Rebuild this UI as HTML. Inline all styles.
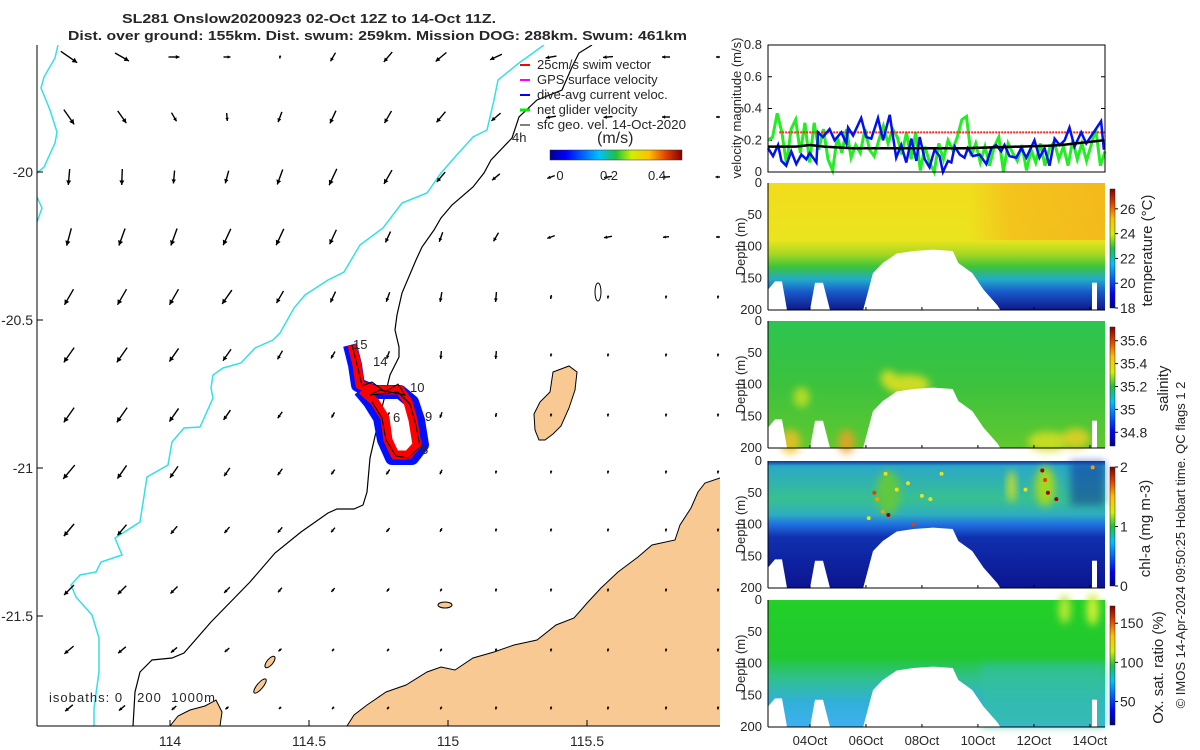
<!DOCTYPE html>
<html><head><meta charset="utf-8"><style>
html,body{margin:0;padding:0;background:#fff;}
svg{display:block;font-family:"Liberation Sans",sans-serif;}
text{fill:#262626;}
</style></head><body>
<svg id="s" width="1200" height="750" xmlns="http://www.w3.org/2000/svg">
<defs>
<linearGradient id="jetV" x1="0" y1="1" x2="0" y2="0">
<stop offset="0" stop-color="#00008f"/><stop offset="0.12" stop-color="#0000ff"/><stop offset="0.37" stop-color="#00c0ff"/><stop offset="0.5" stop-color="#20c040"/><stop offset="0.62" stop-color="#d0f000"/><stop offset="0.75" stop-color="#ffc000"/><stop offset="0.88" stop-color="#e04000"/><stop offset="1" stop-color="#800000"/></linearGradient>
<linearGradient id="jetH" x1="0" y1="0" x2="1" y2="0">
<stop offset="0" stop-color="#00008f"/><stop offset="0.12" stop-color="#0000ff"/><stop offset="0.37" stop-color="#00c0ff"/><stop offset="0.5" stop-color="#20c040"/><stop offset="0.62" stop-color="#d0f000"/><stop offset="0.75" stop-color="#ffc000"/><stop offset="0.88" stop-color="#e04000"/><stop offset="1" stop-color="#800000"/></linearGradient>
<linearGradient id="gT" x1="0" y1="0" x2="0" y2="1">
<stop offset="0" stop-color="#f2dc1c"/><stop offset="0.45" stop-color="#eae41e"/><stop offset="0.56" stop-color="#a6d822"/><stop offset="0.66" stop-color="#3cc43a"/><stop offset="0.76" stop-color="#22aacb"/><stop offset="0.86" stop-color="#1858c8"/><stop offset="1" stop-color="#10188a"/></linearGradient>
<linearGradient id="gTo" x1="0" y1="0" x2="1" y2="0">
<stop offset="0" stop-color="#f5b81c" stop-opacity="0"/><stop offset="0.3" stop-color="#f5b81c" stop-opacity="0.7"/><stop offset="1" stop-color="#f5b01c" stop-opacity="0.8"/></linearGradient>
<linearGradient id="gS" x1="0" y1="0" x2="0" y2="1">
<stop offset="0" stop-color="#2cc450"/><stop offset="0.5" stop-color="#3cc23e"/><stop offset="1" stop-color="#60c830"/></linearGradient>
<linearGradient id="gC" x1="0" y1="0" x2="0" y2="1">
<stop offset="0" stop-color="#1030a0"/><stop offset="0.04" stop-color="#2aa8c8"/><stop offset="0.3" stop-color="#38c090"/><stop offset="0.42" stop-color="#2eaec0"/><stop offset="0.5" stop-color="#2070e0"/><stop offset="0.6" stop-color="#1030b0"/><stop offset="1" stop-color="#0c1490"/></linearGradient>
<linearGradient id="gO" x1="0" y1="0" x2="0" y2="1">
<stop offset="0" stop-color="#22d028"/><stop offset="0.45" stop-color="#22c830"/><stop offset="0.62" stop-color="#30c090"/><stop offset="0.8" stop-color="#30b0d8"/><stop offset="1" stop-color="#40b0f0"/></linearGradient>
<filter id="blur" x="-50%" y="-50%" width="200%" height="200%"><feGaussianBlur stdDeviation="4"/></filter>
<clipPath id="mapClip"><rect x="37" y="45" width="683" height="681"/></clipPath>
</defs>

<text x="122" y="23" font-size="13" font-weight="bold" textLength="374" lengthAdjust="spacingAndGlyphs">SL281 Onslow20200923 02-Oct 12Z to 14-Oct 11Z.</text>
<text x="68" y="40" font-size="13" font-weight="bold" textLength="619" lengthAdjust="spacingAndGlyphs">Dist. over ground: 155km. Dist. swum: 259km. Mission DOG: 288km. Swum: 461km</text>

<g clip-path="url(#mapClip)">
<polygon fill="#f9c994" stroke="#000" stroke-width="1" points="347,726 354,715 367,705 386,692 406,685 427,672 441,667 455,670 473,658 494,652 514,645 537,640 556,625 574,618 588,602 601,588 618,572 638,557 652,545 675,540 680,525 691,508 698,492 705,483 720,478 725,478 725,730 347,730"/>
<polygon fill="#f9c994" stroke="#000" stroke-width="1" points="553,372 569,366 577,372 575,390 569,408 561,426 553,434 545,440 539,440 535,430 534,414 540,402 550,392"/>
<polygon fill="#f9c994" stroke="#000" stroke-width="1" points="170,726 178,716 190,710 205,706 216,700 222,712 220,726"/>
<ellipse cx="445" cy="605" rx="7" ry="3" fill="#f9c994" stroke="#000"/>
<ellipse cx="270" cy="662" rx="3" ry="7" transform="rotate(40 270 662)" fill="#f9c994" stroke="#000"/>
<ellipse cx="260" cy="686" rx="3" ry="9" transform="rotate(40 260 686)" fill="#f9c994" stroke="#000"/>
<ellipse cx="598" cy="292" rx="3" ry="9" fill="none" stroke="#000"/>
<polyline fill="none" stroke="#33e0e8" stroke-width="1.5" points="58,45 55,58 44,77 41,88 50,110 57,132 55,143 44,167 37,173"/>
<polyline fill="none" stroke="#33e0e8" stroke-width="1.5" points="37,197 42,208 37,222"/>
<polyline fill="none" stroke="#33e0e8" stroke-width="1.5" points="544,45 519,63 498,80 494,100 487,130 473,137 455,157 441,173 427,193 402,203 383,228 360,245 344,272 328,280 305,295 294,308 280,333 273,340 255,348 241,363 223,368 213,375 211,388 213,398 200,427 184,428 172,442 168,465 147,477 140,522 115,538 122,555 101,562 96,572 80,575 71,585 76,597 92,615 99,638 99,672 94,708 94,726"/>
<polyline fill="none" stroke="#000" stroke-width="1.2" points="592,45 579,53 572,67 562,90 537,100 519,117 512,138 491,160 484,173 473,187 452,205 441,218 434,230 422,247 416,260 402,293 397,315 395,330 399,347 399,357 390,375 376,432 370,458 367,492 363,505 354,509 337,509 328,513 301,532 275,553 250,582 211,622 184,653 172,658 152,660 140,672 135,692 133,726"/>
<g id="arrows"></g>
<g>
<polyline fill="none" stroke="#0010ff" stroke-width="14" stroke-linejoin="round" points="350,345 355,365 358,385 375,392 400,392 412,402 418,420 422,445 412,458 392,458 384,440 380,418 370,402 360,390"/>
<polyline fill="none" stroke="#ff0000" stroke-width="9" stroke-linejoin="round" points="352,345 357,365 360,385 375,390 400,390 408,402 413,420 417,445 408,455 395,455 388,440 385,418 375,402 362,390"/>
<polyline fill="none" stroke="#fff" stroke-width="4" points="402,412 405,430 400,440"/>
<polyline fill="none" stroke="#000" stroke-width="1" points="352,345 358,368 362,386 372,382 385,392 398,384 405,395 380,390 370,395 398,392 410,404 416,425 420,447 408,458 396,456 386,440 382,418 372,402"/>
</g>
<text x="353" y="349" font-size="13">15</text>
<text x="373" y="366" font-size="13">14</text>
<text x="410" y="392" font-size="13">10</text>
<text x="425" y="421" font-size="13">9</text>
<text x="393" y="422" font-size="13">6</text>
<text x="421" y="454" font-size="13">8</text>
</g>
<line x1="37" y1="45" x2="37" y2="726" stroke="#000"/>
<line x1="37" y1="726" x2="720" y2="726" stroke="#000"/>
<g font-size="14">
<text x="33" y="177" text-anchor="end">-20</text><text x="33" y="325" text-anchor="end">-20.5</text>
<text x="33" y="473" text-anchor="end">-21</text><text x="33" y="621" text-anchor="end">-21.5</text>
<line x1="37" y1="172" x2="43" y2="172" stroke="#000"/><line x1="37" y1="320" x2="43" y2="320" stroke="#000"/><line x1="37" y1="468" x2="43" y2="468" stroke="#000"/><line x1="37" y1="616" x2="43" y2="616" stroke="#000"/>
</g>
<g font-size="14" text-anchor="middle">
<text x="170" y="746">114</text><text x="309" y="746">114.5</text><text x="448" y="746">115</text><text x="587" y="746">115.5</text>
<line x1="170" y1="726" x2="170" y2="720" stroke="#000"/><line x1="309" y1="726" x2="309" y2="720" stroke="#000"/><line x1="448" y1="726" x2="448" y2="720" stroke="#000"/><line x1="587" y1="726" x2="587" y2="720" stroke="#000"/>
</g>
<text x="49" y="702" font-size="13" xml:space="preserve" textLength="166" lengthAdjust="spacing">isobaths: 0   200  1000m</text>
<g font-size="13">
<line x1="520" y1="65" x2="530" y2="65" stroke="#f00" stroke-width="2"/><text x="537" y="69">25cm/s swim vector</text>
<line x1="520" y1="80" x2="530" y2="80" stroke="#f0f" stroke-width="2"/><text x="537" y="84">GPS surface velocity</text>
<line x1="520" y1="95" x2="530" y2="95" stroke="#00f" stroke-width="2"/><text x="537" y="99">dive-avg current veloc.</text>
<line x1="520" y1="110" x2="530" y2="110" stroke="#0e0" stroke-width="3"/><text x="537" y="114">net glider velocity</text>
<line x1="520" y1="125" x2="530" y2="125" stroke="#000" stroke-width="1"/><text x="537" y="129" textLength="149" lengthAdjust="spacingAndGlyphs">sfc geo. vel. 14-Oct-2020</text>
<text x="512" y="142">4h</text>
<text x="597" y="143" font-size="16">(m/s)</text>
<rect x="550" y="150" width="132" height="10" fill="url(#jetH)" stroke="#333" stroke-width="0.5"/>
<text x="560" y="180" text-anchor="middle">0</text><text x="609" y="180" text-anchor="middle">0.2</text><text x="657" y="180" text-anchor="middle">0.4</text>
</g>

<g id="vel"></g>
<g id="sections"></g>
<text transform="translate(1185,545) rotate(-90)" text-anchor="middle" font-size="13">© IMOS 14-Apr-2024 09:50:25 Hobart time. QC flags 1 2</text>

<script>
const NS='http://www.w3.org/2000/svg';
const svg=document.getElementById('s');
function mk(tag,attrs,parent){const e=document.createElementNS(NS,tag);for(const k in attrs)e.setAttribute(k,attrs[k]);parent.appendChild(e);return e;}

const arrowCols=[69,122,174,227,280,333,388,441,496,551,608,666,718];
const arrowRows=[57,117,177,237,297,355,415,472,530,590,650,708];
const arrowAng=[
[35,30,0,0,100,120,130,140,155,170,175,180,180],
[55,55,60,85,110,115,120,130,140,170,175,180,180],
[95,92,95,105,110,115,120,130,140,160,170,175,180],
[105,110,110,115,115,115,115,110,120,160,170,175,180],
[120,120,120,125,120,115,110,100,95,100,100,100,100],
[125,125,125,125,120,120,110,95,95,100,100,100,100],
[125,125,125,125,125,120,120,110,100,100,100,100,100],
[130,125,125,125,125,125,125,115,100,100,100,100,100],
[130,130,130,130,130,130,130,120,100,100,100,100,100],
[135,135,135,135,130,130,130,120,100,100,100,100,100],
[140,140,140,140,140,130,130,120,100,100,100,100,100],
[140,140,140,140,140,130,130,120,100,100,100,100,100]];
const arrowLen=[
[20,16,11,7,3,10,13,14,13,11,10,8,4],
[18,15,10,8,11,14,14,14,12,10,9,8,4],
[16,16,13,13,16,18,16,13,10,8,8,8,5],
[18,18,18,18,18,16,12,10,10,8,8,6,4],
[18,18,18,17,14,12,10,10,10,4,3,3,3],
[18,18,16,14,10,8,8,8,8,3,3,3,3],
[18,18,16,12,8,6,6,6,4,3,3,3,3],
[18,16,14,10,8,6,6,5,3,3,3,3,3],
[16,14,10,8,7,6,5,4,3,3,3,3,3],
[14,12,10,8,6,5,4,3,3,3,3,3,3],
[12,10,8,6,4,3,3,3,3,3,3,3,3],
[10,8,6,4,3,3,3,3,3,3,3,3,3]];
const ag=document.getElementById('arrows');
arrowRows.forEach((y,i)=>arrowCols.forEach((x,j)=>{
  const L=arrowLen[i][j],a=arrowAng[i][j]*Math.PI/180;
  const dx=Math.cos(a)*L/2,dy=Math.sin(a)*L/2;
  const g=mk('g',{},ag);
  
  
  mk('line',{x1:x-dx,y1:y-dy,x2:x+dx,y2:y+dy,stroke:'#000','stroke-width':1.4},g);
  const hx=x+dx,hy=y+dy,h=Math.min(5.5,2+L/5);
  const p1=[hx-Math.cos(a-0.5)*h,hy-Math.sin(a-0.5)*h],p2=[hx-Math.cos(a+0.5)*h,hy-Math.sin(a+0.5)*h];
  mk('polygon',{points:`${hx},${hy} ${p1} ${p2}`,fill:'#000'},g);
}));

const PX0=768,PX1=1105,DAYS=12.04;
const tx=d=>PX0+d/DAYS*(PX1-PX0);
const vY0=172,vY1=45;
const vy=v=>vY0-(v/0.8)*(vY0-vY1);
const blueT=[0,0.18,0.36,0.48,0.65,0.83,1.01,1.19,1.37,1.49,1.73,1.79,1.96,2.2,2.38,2.62,2.8,2.86,3.04,3.33,3.51,3.69,3.93,4.11,4.35,4.58,4.76,4.94,5.12,5.3,5.42,5.6,5.77,5.95,6.13,6.25,6.43,6.55,6.67,6.85,7.02,7.14,7.32,7.56,7.8,7.98,8.15,8.33,8.45,8.63,8.87,9.05,9.23,9.52,9.7,9.88,10.06,10.24,10.42,10.6,10.77,10.95,11.19,11.37,11.9,12.0];
const blueV=[0.15,0.10,0.17,0.07,0.04,0.13,0.05,0.11,0.08,0.12,0.06,0.25,0.22,0.27,0.20,0.25,0.18,0.28,0.23,0.34,0.22,0.21,0.34,0.20,0.36,0.09,0.17,0.06,0.21,0.07,0.22,0.08,0.03,0.14,0.10,0.00,0.07,0.06,0.16,0.11,0.09,0.15,0.10,0.11,0.05,0.15,0.17,0.13,0.17,0.10,0.09,0.15,0.09,0.20,0.09,0.15,0.04,0.21,0.17,0.20,0.28,0.16,0.25,0.18,0.32,0.14];
const greenV=[0.20,0.22,0.37,0.25,0.05,0.27,0.33,0.12,0.31,0.06,0.31,0.14,0.27,0.08,0.01,0.22,0.12,0.27,0.09,0.17,0.12,0.27,0.14,0.10,0.20,0.29,0.18,0.27,0.22,0.11,0.25,0.08,0.25,0.01,0.16,0.06,0.00,0.18,0.08,0.20,0.14,0.22,0.33,0.35,0.10,0.18,0.06,0.16,0.04,0.16,0.22,0.00,0.18,0.12,0.07,0.17,0.01,0.14,0.06,0.18,0.04,0.15,0.19,0.08,0.16,0.04,0.20,0.08,0.18,0.07,0.17,0.27,0.04,0.13];
const blackT=[0,1,1.5,2,3,4,5,6,7,8,9,10,10.5,11,11.5,12];
const blackV=[0.16,0.16,0.17,0.16,0.15,0.15,0.15,0.15,0.15,0.155,0.16,0.165,0.17,0.18,0.19,0.20];
const swimV=0.25;
const vel=document.getElementById('vel');
const vt=[0,0.2,0.4,0.6,0.8];
vt.forEach(v=>{
  const t=mk('text',{x:762,y:vy(v)+4,'text-anchor':'end','font-size':13},vel);t.textContent=v;
  
  
  mk('line',{x1:PX0,y1:vy(v),x2:PX0+4,y2:vy(v),stroke:'#000'},vel);
  mk('line',{x1:PX1,y1:vy(v),x2:PX1-4,y2:vy(v),stroke:'#000'},vel);
});
const vlab=mk('text',{transform:'translate(741,108) rotate(-90)','text-anchor':'middle','font-size':13},vel);
vlab.textContent='velocity magnitude (m/s)';


const gStep=DAYS/(greenV.length-1);
const gl=mk('polyline',{fill:'none',stroke:'#22ee22','stroke-width':3,points:greenV.map((v,i)=>`${tx(i*gStep)},${vy(v)}`).join(' ')},vel);


const rl=mk('line',{x1:tx(0.4),y1:vy(swimV),x2:PX1,y2:vy(swimV),stroke:'#ff2020','stroke-width':2,'stroke-dasharray':'2 1'},vel);


const bl=mk('polyline',{fill:'none',stroke:'#0010ee','stroke-width':2.5,points:blueV.map((v,i)=>`${tx(blueT[i])},${vy(v)}`).join(' ')},vel);


const kl=mk('polyline',{fill:'none',stroke:'#000','stroke-width':2.5,points:blackV.map((v,i)=>`${tx(blackT[i])},${vy(v)}`).join(' ')},vel);


const vf=mk('rect',{x:PX0,y:vY1,width:PX1-PX0,height:vY0-vY1,fill:'none',stroke:'#000'},vel);



const panelTops=[183,321,461,600];
const PH=127;
const depthTicks=[0,50,100,150,200];
const dateLabels=['04Oct','06Oct','08Oct','10Oct','12Oct','14Oct'];
const dateDays=[1.5,3.5,5.5,7.5,9.5,11.5];
const humpT=[3.4,3.75,4.1,4.6,5.2,5.9,6.6,6.8,7.3,7.7,8.2,8.3];
const humpD=[200,142,126,111,107,105,107,126,142,168,193,200];
const panelDefs=[
 {fill:'url(#gT)',name:'temperature-section',label:'temperature (°C)',lx:1152,cb:[18,27.6],ticks:[18,20,22,24,26]},
 {fill:'url(#gS)',name:'salinity-section',label:'salinity',lx:1168,cb:[34.68,35.72],ticks:[34.8,35,35.2,35.4,35.6]},
 {fill:'url(#gC)',name:'chlorophyll-section',label:'chl-a (mg m-3)',lx:1150,cb:[0,2],ticks:[0,1,2]},
 {fill:'url(#gO)',name:'oxygen-section',label:'Ox. sat. ratio (%)',lx:1163,cb:[20,172],ticks:[50,100,150]}];
const sec=document.getElementById('sections');
const salBlobs=[[5.0,100,22,10,'#e8e020'],[4.3,90,8,8,'#e0e020'],[0.8,190,10,12,'#f0c020'],[2.8,190,8,12,'#f0a020'],[1.2,120,8,10,'#c8e020'],[10,190,20,10,'#d8e020'],[11,185,14,10,'#e8d020']];
const chlDotT=[3.8,3.9,4.1,4.3,4.2,4.6,5.0,5.5,5.8,6.2,9.2,9.8,9.9,10.0,10.3,11.6,3.6,5.2];
const chlDotD=[50,60,80,85,20,45,35,55,60,20,45,15,30,50,60,10,90,100];
const chlDotV=[1.7,1.5,1.6,2.0,1.3,1.2,1.1,1.4,1.3,1.2,1.4,2.0,1.8,1.9,2.0,1.6,1.4,1.7];
const chlColor=v=>v>1.85?'#a00000':v>1.6?'#e04000':v>1.4?'#f0a000':'#e8e020';
panelDefs.forEach((p,k)=>{
  const top=panelTops[k];
  const dy=d=>top+d/200*PH;
  const g=mk('g',{},sec);
  
  
  mk('rect',{x:PX0,y:top,width:PX1-PX0,height:PH,fill:p.fill},g);
  if(k===0){mk('rect',{x:tx(7.2),y:top,width:PX1-tx(7.2),height:PH*0.45,fill:'url(#gTo)'},g);}
  if(k===1){salBlobs.forEach(b=>mk('ellipse',{cx:tx(b[0]),cy:dy(b[1]),rx:b[2],ry:b[3],fill:b[4],filter:'url(#blur)',opacity:0.85},g));}
  if(k===2){
    mk('ellipse',{cx:tx(4.3),cy:dy(50),rx:12,ry:22,fill:'#60c840',filter:'url(#blur)'},g);
    mk('ellipse',{cx:tx(9.9),cy:dy(40),rx:10,ry:20,fill:'#a0d820',filter:'url(#blur)'},g);
    mk('ellipse',{cx:tx(8.7),cy:dy(40),rx:4,ry:16,fill:'#d0e020',filter:'url(#blur)'},g);
    mk('rect',{x:tx(10.8),y:top,width:PX1-tx(10.8),height:PH*0.35,fill:'#1030a0',opacity:0.55,filter:'url(#blur)'},g);
    chlDotT.forEach((t,i)=>{const c=mk('circle',{cx:tx(t),cy:dy(chlDotD[i]),r:2,fill:chlColor(chlDotV[i])},g);
      
      });
  }
  if(k===3){
    mk('rect',{x:tx(7.6),y:dy(100),width:PX1-tx(7.6),height:PH/2,fill:'#30c0a0',opacity:0.7,filter:'url(#blur)'},g);
    mk('ellipse',{cx:tx(10.6),cy:dy(15),rx:6,ry:14,fill:'#b8e830',filter:'url(#blur)'},g);
    mk('ellipse',{cx:tx(11.6),cy:dy(15),rx:6,ry:16,fill:'#d0f030',filter:'url(#blur)'},g);
  }
  const hump=humpT.map((t,i)=>`${tx(t)},${dy(humpD[i])}`).join(' ');
  const h=mk('polygon',{points:hump,fill:'#fff'},g);
  
  
  mk('polygon',{points:`${PX0},${dy(168)} ${PX0+7},${dy(155)} ${PX0+14},${dy(155)} ${PX0+19},${dy(200)} ${PX0},${dy(200)}`,fill:'#fff'},g);
  mk('polygon',{points:`${PX0+42},${dy(200)} ${PX0+47},${dy(157)} ${PX0+55},${dy(157)} ${PX0+62},${dy(200)}`,fill:'#fff'},g);
  mk('rect',{x:PX0+324,y:dy(157),width:5,height:dy(200)-dy(157),fill:'#fff'},g);
  mk('line',{x1:PX0,y1:top,x2:PX0,y2:top+PH,stroke:'#000'},g);
  mk('line',{x1:PX0,y1:top+PH,x2:PX1,y2:top+PH,stroke:'#000'},g);
  depthTicks.forEach(d=>{const t=mk('text',{x:762,y:dy(d)+4,'text-anchor':'end','font-size':13},g);t.textContent=d;
    
    });
  dateDays.forEach(d=>mk('line',{x1:tx(d),y1:top+PH,x2:tx(d),y2:top+PH-3,stroke:'#000'},g));
  const yl=mk('text',{transform:`translate(745,${top+PH/2}) rotate(-90)`,'text-anchor':'middle','font-size':13},g);
  yl.textContent='Depth (m)';
  
  
  const cbT=top+6,cbB=top+PH-2;
  const cy=v=>cbB-(v-p.cb[0])/(p.cb[1]-p.cb[0])*(cbB-cbT);
  const cb=mk('rect',{x:1110,y:cbT,width:5,height:cbB-cbT,fill:'url(#jetV)',stroke:'#222','stroke-width':0.5},g);
  
  
  p.ticks.forEach(v=>{const t=mk('text',{x:1120,y:cy(v)+5,'font-size':14},g);t.textContent=v;
    
    
    mk('line',{x1:1115,y1:cy(v),x2:1118,y2:cy(v),stroke:'#000'},g);});
  const cl=mk('text',{transform:`translate(${p.lx},${top+PH/2+4}) rotate(-90)`,'text-anchor':'middle','font-size':15},g);
  cl.textContent=p.label;
  
  
});
dateLabels.forEach((s,i)=>{const t=mk('text',{x:tx(dateDays[i]),y:745,'text-anchor':'middle','font-size':13},sec);t.textContent=s;
  
  });
</script>
</svg>
</body></html>
